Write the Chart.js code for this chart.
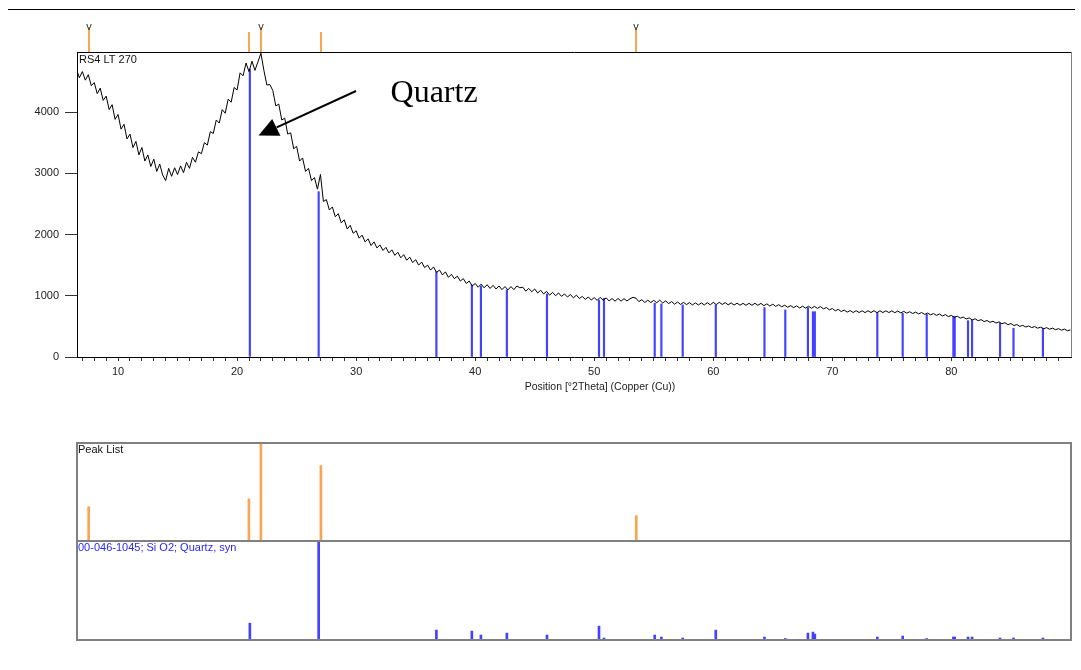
<!DOCTYPE html>
<html><head><meta charset="utf-8">
<script src="https://cdn.jsdelivr.net/npm/chart.js@4"></script>
<style>
body{margin:0;background:#fff;width:1081px;height:670px;overflow:hidden;position:relative}
canvas{position:absolute;left:0}
#rule{position:absolute;left:8px;top:9px;width:1067px;height:0;border-top:1px solid #000}
</style></head><body>
<div id="rule"></div>
<canvas id="main" width="1081" height="400" style="top:0"></canvas>
<canvas id="peaks" width="1081" height="104" style="top:440px"></canvas>
<canvas id="ref" width="1081" height="105" style="top:538px"></canvas>
<script>
// ---- scan (RS4 LT 270): counts read every 0.25 deg 2Theta from 6.5 ----
const angleStart = 6.5;
const angleStep = 0.25;
const counts = [
  4700, 4560,
  4660, 4520, 4610, 4430,   // 7
  4480, 4300, 4390, 4190,   // 8
  4260, 4040, 4120, 3880,   // 9
  3960, 3720, 3800, 3560,   // 10
  3640, 3420, 3520, 3300,   // 11
  3420, 3200, 3300, 3110,   // 12
  3230, 3030, 3150, 2970,   // 13
  2880, 3080, 2950, 3090,   // 14
  2980, 3120, 3010, 3180,   // 15
  3080, 3260, 3180, 3350,   // 16
  3320, 3500, 3460, 3680,   // 17
  3650, 3870, 3820, 4040,   // 18
  3980, 4210, 4160, 4400,   // 19
  4360, 4640, 4590, 4800,   // 20
  4660, 4830, 4680, 4820,   // 21
  4960, 4680, 4440, 4450,   // 22
  4350, 4100, 4130, 3870,   // 23
  3900, 3640, 3660, 3400,   // 24
  3440, 3200, 3250, 3030,   // 25
  3080, 2880, 2930, 2740,   // 26
  2980, 2540, 2570, 2400,   // 27
  2450, 2290, 2340, 2190,   // 28
  2240, 2090, 2150, 2020,   // 29
  2060, 1940, 1990, 1880,   // 30
  1930, 1820, 1880, 1780,   // 31
  1830, 1740, 1790, 1700,   // 32
  1750, 1660, 1710, 1620,   // 33
  1670, 1580, 1630, 1540,   // 34
  1590, 1500, 1550, 1460,   // 35
  1500, 1420, 1470, 1380,   // 36
  1420, 1340, 1390, 1300,   // 37
  1350, 1280, 1320, 1240,   // 38
  1280, 1200, 1240, 1160,   // 39
  1200, 1140, 1190, 1130,   // 40
  1180, 1120, 1170, 1110,   // 41
  1160, 1100, 1150, 1095,   // 42
  1150, 1100, 1160, 1130,   // 43
  1140, 1075, 1120, 1065,   // 44
  1110, 1045, 1090, 1030,   // 45
  1070, 1010, 1055, 1000,   // 46
  1045, 990, 1030, 980,     // 47
  1020, 965, 1010, 955,     // 48
  990, 940, 980, 930,       // 49
  970, 925, 975, 925,       // 50
  965, 915, 955, 912,       // 51
  955, 912, 952, 915,       // 52
  950, 975, 960, 905,       // 53
  935, 890, 928, 888,       // 54
  925, 885, 928, 882,       // 55
  915, 872, 905, 862,       // 56
  898, 858, 892, 856,       // 57
  888, 850, 884, 850,       // 58
  884, 850, 886, 852,       // 59
  892, 856, 892, 858,       // 60
  888, 852, 884, 848,       // 61
  878, 845, 876, 844,       // 62
  876, 844, 877, 843,       // 63
  876, 838, 868, 832,       // 64
  862, 826, 855, 820,       // 65
  846, 812, 838, 806,       // 66
  834, 800, 830, 798,       // 67
  828, 796, 826, 794,       // 68
  824, 786, 808, 770,       // 69
  792, 754, 778, 742,       // 70
  766, 733, 758, 726,       // 71
  756, 726, 755, 725,       // 72
  755, 726, 756, 724,       // 73
  755, 726, 754, 726,       // 74
  753, 724, 750, 720,       // 75
  745, 716, 739, 710,       // 76
  733, 704, 726, 696,       // 77
  718, 688, 710, 680,       // 78
  702, 670, 692, 660,       // 79
  680, 648, 666, 634,       // 80
  652, 620, 638, 606,       // 81
  624, 592, 610, 578,       // 82
  596, 566, 584, 554,       // 83
  574, 543, 560, 528,       // 84
  546, 514, 530, 500,       // 85
  517, 489, 507, 480,       // 86
  497, 470, 488, 462,       // 87
  479, 454, 471, 446,       // 88
  463, 438, 455, 430,       // 89
  442                       // 90
];

// ---- peak list (orange) ----
const peakAngles = [7.53, 20.99, 22.0, 27.04, 53.53];
const peakRelInt = [35, 43, 100, 77, 26];
const peakMarked = [true, false, true, false, true];

// ---- reference pattern 00-046-1045 Quartz (blue) ----
const refAngles = [21.07, 26.85, 36.74, 39.72, 40.48, 42.66, 46.03, 50.40, 50.82, 55.08, 55.64, 57.43,
  60.21, 64.30, 66.05, 67.95, 68.37, 68.53, 73.78, 75.91, 77.93, 80.17, 80.28, 81.40, 81.74, 84.09, 85.22, 87.69];
const refTopsInScan = [4700, 2700, 1394, 1176, 1160, 1095, 1029, 931, 959, 877, 866, 850,
  850, 806, 768, 806, 740, 740, 724, 714, 698, 659, 659, 593, 605, 550, 469, 469];
const refRelInt = [17, 100, 10, 9, 5, 7, 5, 14, 2, 5, 3, 2,
  10, 3, 1.5, 7, 8, 6, 3, 4, 1.5, 3, 3, 3, 3, 2, 2, 2];

// ---- axes ----
const xMin = 6.55, xMax = 90.05, yMax = 4980;
const yTicks = [0, 1000, 2000, 3000, 4000];
const xLabels = [10, 20, 30, 40, 50, 60, 70, 80];
const xMinorFirst = 7, xMinorLast = 89;
const xTitle = 'Position [°2Theta] (Copper (Cu))';
const scanName = 'RS4 LT 270';
const peakPanelName = 'Peak List';
const refPanelName = '00-046-1045; Si O2; Quartz, syn';
const annotText = 'Quartz';
// annotation arrow in data coordinates
const arrowFrom = {x: 29.99, y: 4343}, arrowTo = {x: 23.33, y: 3750};
const arrowHead = [{x: 21.80, y: 3616}, {x: 23.64, y: 3613}, {x: 22.95, y: 3886}];
const annotPos = {x: 32.89, y: 4163};

const FONT = "'Liberation Sans', Arial, sans-serif";
const ORANGE = 'rgb(250,165,82)';
const BLUE = 'rgb(66,66,255)';

const scanPts = counts.map((c, i) => ({x: angleStart + i * angleStep, y: c}));
const refMainPts = refAngles.map((a, i) => ({x: a, y: refTopsInScan[i]}));
const xTickValues = [];
for (let v = xMinorFirst; v <= xMinorLast; v++) xTickValues.push(v);

const mainDeco = {
  id: 'mainDeco',
  afterDatasetsDraw(chart) {
    const {ctx, scales: {x, y}} = chart;
    ctx.save();
    ctx.strokeStyle = '#000'; ctx.lineWidth = 2;
    ctx.beginPath();
    ctx.moveTo(x.getPixelForValue(arrowFrom.x), y.getPixelForValue(arrowFrom.y));
    ctx.lineTo(x.getPixelForValue(arrowTo.x), y.getPixelForValue(arrowTo.y));
    ctx.stroke();
    ctx.fillStyle = '#000';
    ctx.beginPath();
    arrowHead.forEach((p, i) => {
      const px = x.getPixelForValue(p.x), py = y.getPixelForValue(p.y);
      if (i === 0) ctx.moveTo(px, py); else ctx.lineTo(px, py);
    });
    ctx.closePath(); ctx.fill();
    ctx.font = "32px 'Liberation Serif', 'Times New Roman', serif";
    ctx.textAlign = 'left'; ctx.textBaseline = 'alphabetic';
    ctx.fillText(annotText, x.getPixelForValue(annotPos.x), y.getPixelForValue(annotPos.y));
    ctx.restore();
  },
  afterDraw(chart) {
    const {ctx, chartArea: a, scales: {x}} = chart;
    ctx.save();
    ctx.lineWidth = 1;
    ctx.strokeStyle = '#000';
    ctx.beginPath(); ctx.moveTo(a.left, a.top + 0.5); ctx.lineTo(a.right + 1, a.top + 0.5); ctx.stroke();
    ctx.strokeStyle = '#808080';
    ctx.beginPath(); ctx.moveTo(a.right + 0.5, a.top); ctx.lineTo(a.right + 0.5, a.bottom); ctx.stroke();
    peakAngles.forEach((p, i) => {
      const px = Math.round(x.getPixelForValue(p));
      ctx.strokeStyle = ORANGE; ctx.lineWidth = 2;
      ctx.beginPath(); ctx.moveTo(px, a.top - (peakMarked[i] ? 25 : 20)); ctx.lineTo(px, a.top); ctx.stroke();
      if (peakMarked[i]) {
        ctx.fillStyle = '#333'; ctx.font = '11px ' + FONT;
        ctx.textAlign = 'center'; ctx.textBaseline = 'alphabetic';
        ctx.fillText('v', px, a.top - 22);
      }
    });
    ctx.fillStyle = '#111'; ctx.font = '11px ' + FONT;
    ctx.textAlign = 'left'; ctx.textBaseline = 'alphabetic';
    ctx.fillText(scanName, a.left + 2, a.top + 11);
    ctx.font = '10.5px ' + FONT; ctx.fillStyle = '#222';
    ctx.textAlign = 'center';
    ctx.fillText(xTitle, 600, 390);
    ctx.restore();
  }
};

new Chart(document.getElementById('main'), {
  type: 'line',
  data: {datasets: [
    {type: 'line', data: scanPts, borderColor: '#000', borderWidth: 1, pointRadius: 0, tension: 0, order: 0},
    {type: 'bar', data: refMainPts, backgroundColor: BLUE, barThickness: 1.5, grouped: false, order: 1}
  ]},
  options: {
    responsive: false, animation: false, devicePixelRatio: 1,
    layout: {padding: {top: 52, right: 10, left: 0, bottom: 0}},
    plugins: {legend: {display: false}, tooltip: {enabled: false}},
    scales: {
      x: {type: 'linear', min: xMin, max: xMax, offset: false,
        grid: {display: true, offset: false, drawOnChartArea: false, drawTicks: true, tickLength: 4, tickColor: '#333'},
        border: {display: true, color: '#000', width: 1},
        afterBuildTicks: (s) => { s.ticks = xTickValues.map(v => ({value: v})); },
        ticks: {autoSkip: false, maxRotation: 0, minRotation: 0, padding: 4,
          color: '#222', font: {family: FONT, size: 11},
          callback: (v) => (xLabels.includes(v) ? String(v) : '')},
        afterFit: (s) => { s.height = 43; }
      },
      y: {type: 'linear', min: 0, max: yMax,
        grid: {display: true, drawOnChartArea: false, drawTicks: true, tickLength: 12, tickColor: '#333'},
        border: {display: true, color: '#000', width: 1},
        afterBuildTicks: (s) => { s.ticks = yTicks.map(v => ({value: v})); },
        ticks: {padding: 6, color: '#222', font: {family: FONT, size: 11}, callback: (v) => String(v)},
        afterFit: (s) => { s.width = 77; }
      }
    }
  },
  plugins: [mainDeco]
});

function stickPanel(id, angles, heights, color, label, labelColor) {
  new Chart(document.getElementById(id), {
    type: 'bar',
    data: {datasets: [{data: angles.map((a, i) => ({x: a, y: heights[i]})), backgroundColor: color, barThickness: 2, grouped: false}]},
    options: {
      responsive: false, animation: false, devicePixelRatio: 1,
      layout: {padding: {top: 3, bottom: 3, left: 77, right: 10}},
      plugins: {legend: {display: false}, tooltip: {enabled: false}},
      scales: {
        x: {type: 'linear', min: xMin, max: xMax, display: false, offset: false, grid: {offset: false}},
        y: {type: 'linear', min: 0, max: 100, display: false}
      }
    },
    plugins: [{
      id: 'frame',
      afterDraw(c) {
        const {ctx, chartArea: a} = c;
        ctx.save();
        ctx.strokeStyle = '#808080'; ctx.lineWidth = 2;
        ctx.strokeRect(a.left, a.top, a.right - a.left, a.bottom - a.top);
        ctx.fillStyle = labelColor; ctx.font = '11px ' + FONT;
        ctx.textAlign = 'left'; ctx.textBaseline = 'alphabetic';
        ctx.fillText(label, a.left + 1, a.top + 10);
        ctx.restore();
      }
    }]
  });
}
stickPanel('peaks', peakAngles, peakRelInt, ORANGE, peakPanelName, '#111');
stickPanel('ref', refAngles, refRelInt, BLUE, refPanelName, 'rgb(40,40,255)');
</script>
</body></html>
